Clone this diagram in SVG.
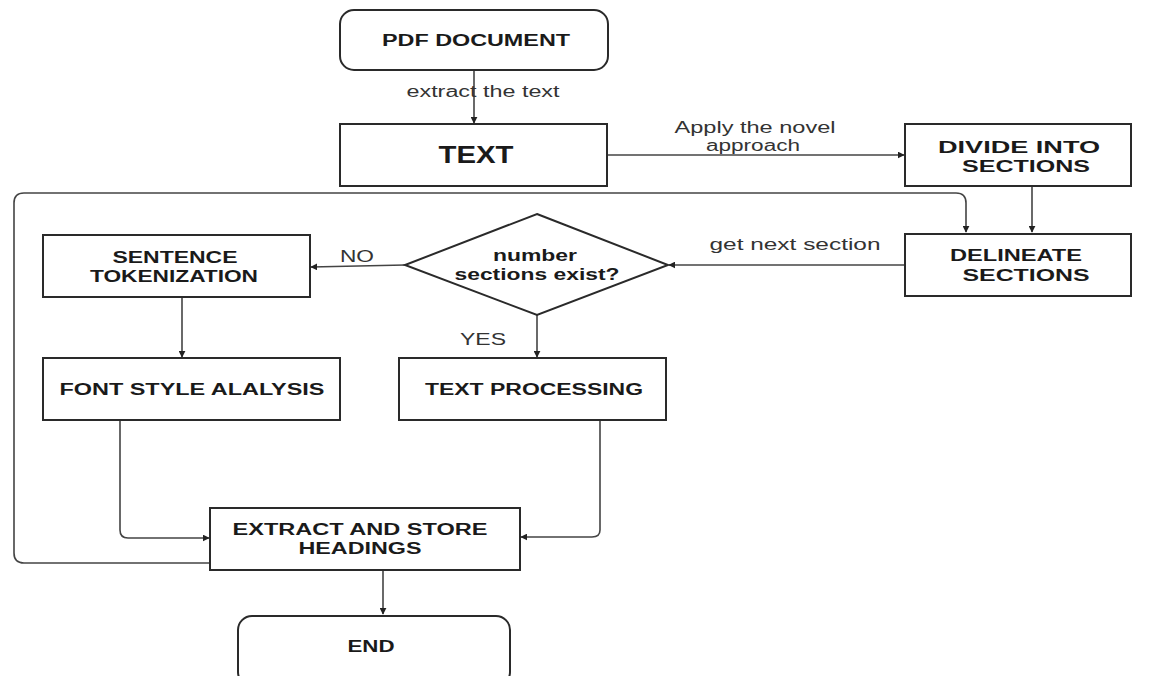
<svg xmlns="http://www.w3.org/2000/svg" width="1150" height="676" viewBox="0 0 1150 676">
<defs>
<marker id="ah" viewBox="0 0 10 10" refX="9" refY="5" markerWidth="7" markerHeight="7" orient="auto" markerUnits="userSpaceOnUse">
<path d="M0,0 L10,5 L0,10 z" fill="#222"/>
</marker>
<style>
.box{fill:#fff;stroke:#2a2a2a;stroke-width:2}
.t{font-family:"Liberation Sans",Arial,sans-serif;font-weight:bold;font-size:16px;fill:#1a1a1a;text-anchor:middle}
.l{font-family:"Liberation Sans",Arial,sans-serif;font-size:16px;fill:#333;text-anchor:middle}
.c{fill:none;stroke:#444;stroke-width:1.6}
</style>
</defs>
<rect width="1150" height="676" fill="#fff"/>
<g id="connectors">
<path class="c" d="M474,70 V123" marker-end="url(#ah)"/>
<path class="c" d="M607,155 H904" marker-end="url(#ah)"/>
<path class="c" d="M1032,186 V232" marker-end="url(#ah)"/>
<path class="c" d="M210,563 H24 Q14,563 14,553 V203 Q14,193 24,193 H956 Q966,193 966,203 V232" marker-end="url(#ah)"/>
<path class="c" d="M905,265 H669" marker-end="url(#ah)"/>
<path class="c" d="M405,265 L311,267" marker-end="url(#ah)"/>
<path class="c" d="M182,297 V357" marker-end="url(#ah)"/>
<path class="c" d="M537,315 V357" marker-end="url(#ah)"/>
<path class="c" d="M120,420 V530 Q120,538 128,538 H209" marker-end="url(#ah)"/>
<path class="c" d="M600,420 V530 Q600,537 592,537 H521" marker-end="url(#ah)"/>
<path class="c" d="M383,570 V614" marker-end="url(#ah)"/>
<text class="l" x="483" y="97" textLength="153" lengthAdjust="spacingAndGlyphs">extract the text</text>
<text class="l" x="755" y="133" textLength="161" lengthAdjust="spacingAndGlyphs">Apply the novel</text>
<text class="l" x="753" y="151" textLength="94" lengthAdjust="spacingAndGlyphs">approach</text>
<text class="l" x="795" y="250" textLength="171" lengthAdjust="spacingAndGlyphs">get  next section</text>
<text class="l" x="357" y="262" textLength="34" lengthAdjust="spacingAndGlyphs">NO</text>
<text class="l" x="483" y="345" textLength="46" lengthAdjust="spacingAndGlyphs">YES</text>
</g>
<g id="pdf"><rect class="box" x="340" y="10" width="268" height="60" rx="14"/><text class="t" x="476" y="46" textLength="188" lengthAdjust="spacingAndGlyphs">PDF DOCUMENT</text></g>
<g id="text"><rect class="box" x="340" y="124" width="267" height="62"/><text class="t" x="476" y="163" style="font-size:23px" textLength="75" lengthAdjust="spacingAndGlyphs">TEXT</text></g>
<g id="divide"><rect class="box" x="905" y="124" width="226" height="62"/><text class="t" x="1019" y="153" textLength="162" lengthAdjust="spacingAndGlyphs">DIVIDE INTO</text><text class="t" x="1026" y="172" textLength="128" lengthAdjust="spacingAndGlyphs">SECTIONS</text></g>
<g id="delineate"><rect class="box" x="905" y="234" width="226" height="62"/><text class="t" x="1016" y="261" textLength="132" lengthAdjust="spacingAndGlyphs">DELINEATE</text><text class="t" x="1026" y="281" textLength="127" lengthAdjust="spacingAndGlyphs">SECTIONS</text></g>
<g id="decision"><polygon class="box" points="537,214 668,265 537,315 405,265"/><text class="t" x="535" y="261" textLength="84" lengthAdjust="spacingAndGlyphs">number</text><text class="t" x="537" y="280" textLength="165" lengthAdjust="spacingAndGlyphs">sections exist?</text></g>
<g id="sentence"><rect class="box" x="43" y="235" width="267" height="62"/><text class="t" x="175" y="263" textLength="125" lengthAdjust="spacingAndGlyphs">SENTENCE</text><text class="t" x="174" y="282" textLength="168" lengthAdjust="spacingAndGlyphs">TOKENIZATION</text></g>
<g id="font"><rect class="box" x="43" y="358" width="297" height="62"/><text class="t" x="192" y="395" textLength="265" lengthAdjust="spacingAndGlyphs">FONT STYLE ALALYSIS</text></g>
<g id="processing"><rect class="box" x="399" y="358" width="267" height="62"/><text class="t" x="534" y="395" textLength="218" lengthAdjust="spacingAndGlyphs">TEXT PROCESSING</text></g>
<g id="extract"><rect class="box" x="210" y="508" width="310" height="62"/><text class="t" x="360" y="535" textLength="255" lengthAdjust="spacingAndGlyphs">EXTRACT AND STORE</text><text class="t" x="360" y="554" textLength="123" lengthAdjust="spacingAndGlyphs">HEADINGS</text></g>
<g id="end"><rect class="box" x="238" y="616" width="272" height="70" rx="14"/><text class="t" x="371" y="652" textLength="47" lengthAdjust="spacingAndGlyphs">END</text></g>
</svg>
